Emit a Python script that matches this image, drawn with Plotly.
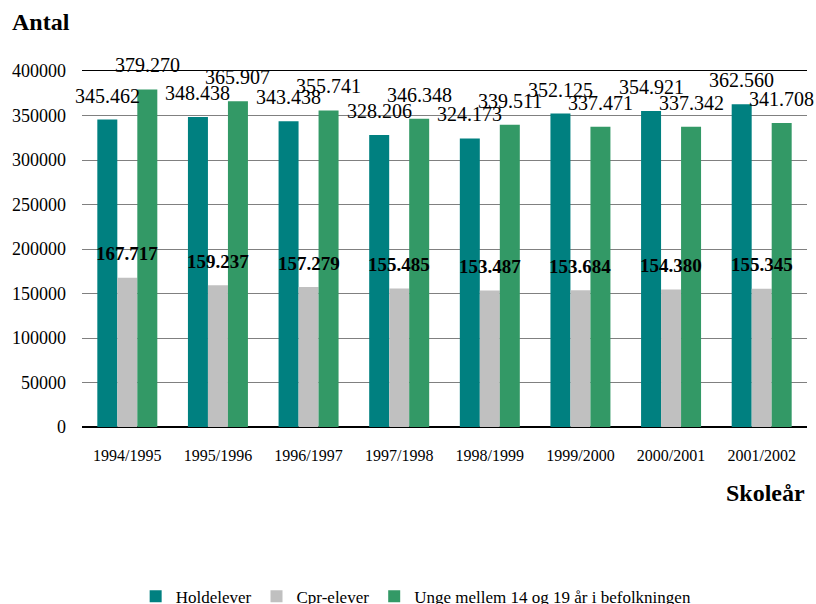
import plotly.graph_objects as go

skoleaar = ['1994/1995', '1995/1996', '1996/1997', '1997/1998',
            '1998/1999', '1999/2000', '2000/2001', '2001/2002']
holdelever = [345462, 348438, 343438, 328206, 324173, 352125, 354921, 362560]
cpr_elever = [167717, 159237, 157279, 155485, 153487, 153684, 154380, 155345]
unge_14_19 = [379270, 365907, 355741, 346348, 339511, 337471, 337342, 341708]

y_ticks = [0, 50000, 100000, 150000, 200000, 250000, 300000, 350000, 400000]

SERIF = 'Liberation Serif, Times New Roman, serif'


def dk(v):
    # dansk tusindtalsseparator
    return f"{v:,}".replace(',', '.')


series = [
    ('Holdelever', holdelever, '#008080', -20, False),
    ('Cpr-elever', cpr_elever, '#C0C0C0', 0, True),
    ('Unge mellem 14 og 19 år i befolkningen', unge_14_19, '#339966', 20, False),
]

fig = go.Figure()
annotations = []
for name, vals, color, xoff, bold in series:
    fig.add_trace(go.Bar(x=skoleaar, y=vals, name=name, marker_color=color,
                         marker_line_width=0))
    for cat, v in zip(skoleaar, vals):
        txt = f"<b>{dk(v)}</b>" if bold else dk(v)
        annotations.append(dict(x=cat, y=v, text=txt, showarrow=False,
                                xshift=xoff, yshift=24, yanchor='middle',
                                font=dict(family=SERIF, size=19 if bold else 20,
                                          color='black')))

annotations.append(dict(text='<b>Antal</b>', xref='paper', yref='paper',
                        x=-0.099, y=1.138, xanchor='left', yanchor='middle',
                        showarrow=False, font=dict(family=SERIF, size=24, color='black')))
annotations.append(dict(text='<b>Skoleår</b>', xref='paper', yref='paper',
                        x=1.0, y=-0.185, xanchor='right', yanchor='middle',
                        showarrow=False, font=dict(family=SERIF, size=24, color='black')))

fig.update_layout(
    width=816, height=604,
    margin=dict(l=82, r=9, t=71, b=177, autoexpand=False),
    paper_bgcolor='white', plot_bgcolor='white',
    barmode='group', bargap=0.338, bargroupgap=0,
    font=dict(family=SERIF, size=16, color='black'),
    annotations=annotations,
    showlegend=True,
    legend=dict(orientation='h', xref='container', yref='container',
                x=0.51, xanchor='center', y=0.012, yanchor='middle',
                font=dict(family=SERIF, size=17), itemwidth=30,
                traceorder='normal'),
)
# fast x-range, ellers skubber annotationerne kategorierne ind
fig.update_xaxes(range=[-0.5, len(skoleaar) - 0.5],
                 showline=True, mirror=True, linecolor='black', linewidth=1,
                 ticks='', ticklabelstandoff=14, showgrid=False, automargin=False,
                 tickfont=dict(family=SERIF, size=16))
fig.update_yaxes(range=[0, 400000], tickvals=y_ticks, tickformat='d',
                 showgrid=True, gridcolor='#808080', gridwidth=1,
                 zeroline=True, zerolinecolor='black', zerolinewidth=2,
                 ticks='', ticklabelstandoff=15, automargin=False,
                 tickfont=dict(family=SERIF, size=18))

# fjern browserens standardmargen paa body, saa figuren starter i (0, 0)
fig.write_html("out.html", config={'displayModeBar': False},
               post_script="document.body.style.margin='0';")
